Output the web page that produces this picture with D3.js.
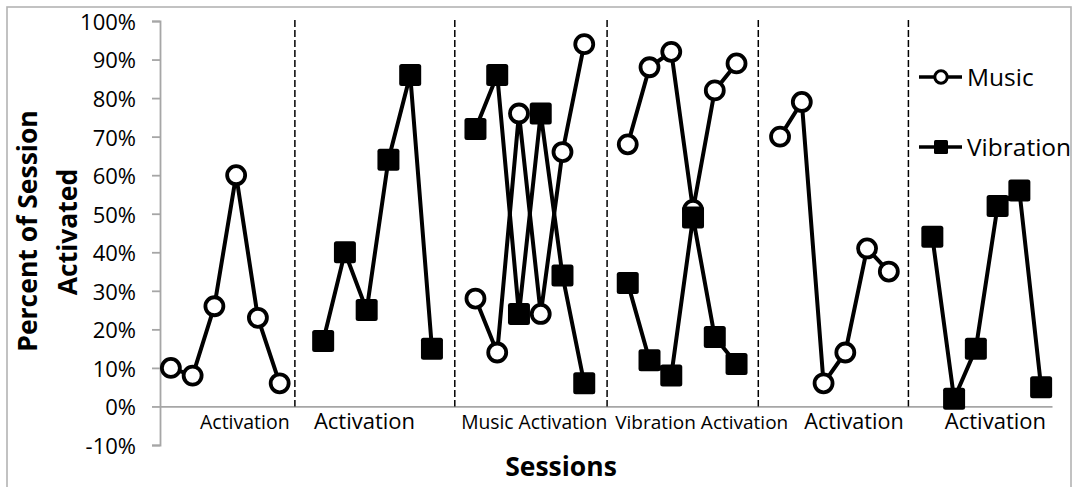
<!DOCTYPE html>
<html>
<head>
<meta charset="utf-8">
<script src="https://cdn.jsdelivr.net/npm/d3@7"></script>
<style>
  html, body { margin: 0; padding: 0; background: #fff; }
  svg { display: block; }
  text { font-family: "Open Sans", "Liberation Sans", sans-serif; fill: #000; }
</style>
</head>
<body>
<svg id="chart" width="1077" height="487"></svg>
<script>
// ---- data ----
const sessionLabels = ["Activation", "Activation", "Music Activation", "Vibration Activation", "Activation", "Activation"];
const seriesNames = ["Music", "Vibration"];
// values (percent) per session, 6 observations each; empty = series not recorded in that session
const musicValues = [
  [10, 8, 26, 60, 23, 6],
  [],
  [28, 14, 76, 24, 66, 94],
  [68, 88, 92, 51, 82, 89],
  [70, 79, 6, 14, 41, 35],
  []
];
const vibrationValues = [
  [],
  [17, 40, 25, 64, 86, 15],
  [72, 86, 24, 76, 34, 6],
  [32, 12, 8, 49, 18, 11],
  [],
  [44, 2, 15, 52, 56, 5]
];
const yTickValues = [-10, 0, 10, 20, 30, 40, 50, 60, 70, 80, 90, 100];

// ---- layout (not data) ----
const W = 1077, H = 487;
const plot = { left: 160, right: 1052, top: 21, bottom: 445 };
const slotsPerSession = 7;               // 6 observations + 1 gap
const nSlots = sessionLabels.length * slotsPerSession - 1;
const labelOffsets = [3.4, 1.9, 2.7, 3.4, 3.4, 2.9];   // label centre, in slots from session start
const labelSizes = [19.5, 22, 19.3, 19, 21.6, 22];
const separatorOffsets = [5.7, 13.05, 20.05, 27.0, 33.9];

const svg = d3.select("#chart");

const x = d3.scaleLinear().domain([-0.5, nSlots - 0.5]).range([plot.left, plot.right]);
const y = d3.scaleLinear().domain([-10, 100]).range([plot.bottom, plot.top]);

// chart border
svg.append("rect")
  .attr("x", 7).attr("y", 7).attr("width", W - 14 + 1).attr("height", H + 10)
  .attr("fill", "none").attr("stroke", "#b3b3b3").attr("stroke-width", 1.6);

// y axis
const yAxis = svg.append("g")
  .attr("transform", `translate(${plot.left},0)`)
  .call(d3.axisLeft(y).tickValues(yTickValues).tickFormat(d => d + "%").tickSize(8).tickPadding(16));
yAxis.select(".domain").attr("stroke", "#a6a6a6").attr("stroke-width", 1.8);
yAxis.selectAll(".tick line").attr("stroke", "#a6a6a6").attr("stroke-width", 1.8);
yAxis.selectAll(".tick text")
  .style("font-family", "'Open Sans', sans-serif")
  .style("font-size", "22px").attr("fill", "#000").attr("dy", "0.38em");

// x axis (line only)
const xAxis = svg.append("g")
  .attr("transform", `translate(0,${y(0)})`)
  .call(d3.axisBottom(x).tickValues([]).tickSize(0).tickSizeOuter(0));
xAxis.select(".domain").attr("stroke", "#a6a6a6").attr("stroke-width", 1.8);

// session separators
svg.append("g").selectAll("line")
  .data(separatorOffsets)
  .join("line")
  .attr("x1", d => x(d)).attr("x2", d => x(d))
  .attr("y1", y(100) - 1).attr("y2", y(0))
  .attr("stroke", "#000").attr("stroke-width", 1.5)
  .attr("stroke-dasharray", "7,3");

// session labels
svg.append("g").selectAll("text")
  .data(sessionLabels)
  .join("text")
  .attr("x", (d, i) => x(i * slotsPerSession + labelOffsets[i]))
  .attr("y", 429)
  .attr("text-anchor", "middle")
  .style("font-size", (d, i) => labelSizes[i] + "px")
  .text(d => d);

// build points
function toPoints(values) {
  const segs = [];
  values.forEach((vals, s) => {
    if (vals.length) segs.push(vals.map((v, j) => ({ slot: s * slotsPerSession + j, v })));
  });
  return segs;
}
const musicSegs = toPoints(musicValues);
const vibSegs = toPoints(vibrationValues);
const line = d3.line().x(d => x(d.slot)).y(d => y(d.v));

function drawSeries(segs, type) {
  const g = svg.append("g");
  g.selectAll("path")
    .data(segs)
    .join("path")
    .attr("d", line)
    .attr("fill", "none").attr("stroke", "#000").attr("stroke-width", 4)
    .attr("stroke-linejoin", "round");
  const pts = segs.flat();
  if (type === "circle") {
    g.selectAll("circle")
      .data(pts)
      .join("circle")
      .attr("cx", d => x(d.slot)).attr("cy", d => y(d.v)).attr("r", 9)
      .attr("fill", "#fff").attr("stroke", "#000").attr("stroke-width", 3.8);
  } else {
    const s = 22;
    g.selectAll("rect")
      .data(pts)
      .join("rect")
      .attr("x", d => x(d.slot) - s / 2).attr("y", d => y(d.v) - s / 2)
      .attr("width", s).attr("height", s).attr("rx", 2.5)
      .attr("fill", "#000");
  }
}
drawSeries(musicSegs, "circle");
drawSeries(vibSegs, "square");

// legend
const legend = svg.append("g");
const legendY = [77, 147];
seriesNames.forEach((name, i) => {
  const gy = legendY[i];
  legend.append("line")
    .attr("x1", 919).attr("x2", 962).attr("y1", gy).attr("y2", gy)
    .attr("stroke", "#000").attr("stroke-width", 3.5);
  if (i === 0) {
    legend.append("circle").attr("cx", 941).attr("cy", gy).attr("r", 6.2)
      .attr("fill", "#fff").attr("stroke", "#000").attr("stroke-width", 3);
  } else {
    legend.append("rect").attr("x", 934).attr("y", gy - 7).attr("width", 14).attr("height", 14)
      .attr("rx", 1.5).attr("fill", "#000");
  }
  legend.append("text")
    .attr("x", 967).attr("y", gy).attr("dy", "0.36em")
    .style("font-size", "24.5px")
    .text(name);
});

// axis titles
const yTitle = svg.append("g").style("font-weight", "bold").style("font-size", "26.5px");
yTitle.append("text")
  .attr("transform", "translate(37,231) rotate(-90)")
  .attr("text-anchor", "middle")
  .text("Percent of Session");
yTitle.append("text")
  .attr("transform", "translate(77,232) rotate(-90)")
  .attr("text-anchor", "middle")
  .text("Activated");

svg.append("text")
  .attr("x", 561).attr("y", 476)
  .attr("text-anchor", "middle")
  .style("font-weight", "bold").style("font-size", "26.5px")
  .text("Sessions");
</script>
</body>
</html>
